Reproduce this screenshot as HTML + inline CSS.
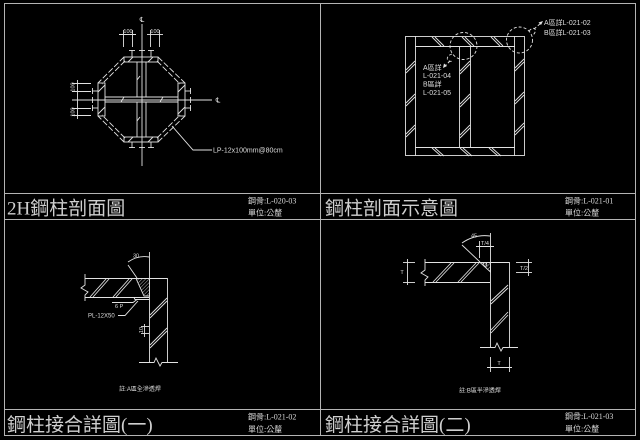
<!DOCTYPE html>
<html><head><meta charset="utf-8">
<style>
html,body{margin:0;padding:0;background:#000;width:640px;height:440px;overflow:hidden}
svg{display:block}
text{fill:#dedede;font-family:"Liberation Sans","Noto Sans CJK TC",sans-serif;}
.t{font-family:"Liberation Serif","Noto Sans CJK TC",serif;font-size:19px;fill:#cfcfcf}
.i{font-family:"Liberation Serif","Noto Sans CJK TC",serif;font-size:8px;fill:#d6d6d6}
.s{font-size:6px}
.xs{font-size:5.5px}
.m{font-size:7px}
</style></head><body>
<svg width="640" height="440" viewBox="0 0 640 440" xmlns="http://www.w3.org/2000/svg">
<rect width="640" height="440" fill="#000"/>
<defs>
<pattern id="h" width="2.5" height="2.5" patternUnits="userSpaceOnUse" patternTransform="rotate(45)">
<line x1="0" y1="0" x2="0" y2="2.5" stroke="#dddddd" stroke-width="0.8"/>
</pattern>
</defs>

<!-- frame -->
<g fill="none" stroke="#b4b4b4" stroke-width="1">
<rect x="4.5" y="3.5" width="631" height="432"/>
<line x1="320.5" y1="3" x2="320.5" y2="436"/>
<line x1="4" y1="219.5" x2="636" y2="219.5"/>
<line x1="4" y1="193.5" x2="636" y2="193.5"/>
<line x1="4" y1="409.5" x2="636" y2="409.5"/>
</g>

<!-- titles -->
<text class="t" x="7" y="214.5">2H鋼柱剖面圖</text>
<text class="t" x="325" y="214.5">鋼柱剖面示意圖</text>
<text class="t" x="7" y="431">鋼柱接合詳圖(一)</text>
<text class="t" x="325" y="431">鋼柱接合詳圖(二)</text>

<text class="i" x="248" y="203.5">鋼骨:L-020-03</text>
<text class="i" x="248" y="215.5">單位:公釐</text>
<text class="i" x="565" y="203.5">鋼骨:L-021-01</text>
<text class="i" x="565" y="215.5">單位:公釐</text>
<text class="i" x="248" y="419.5">鋼骨:L-021-02</text>
<text class="i" x="248" y="432">單位:公釐</text>
<text class="i" x="565" y="419">鋼骨:L-021-03</text>
<text class="i" x="565" y="431.5">單位:公釐</text>

<!-- ================= Panel 1 ================= -->
<g stroke="#e2e2e2" stroke-width="0.9" fill="none">
<!-- centerlines -->
<line x1="142" y1="24" x2="142" y2="166"/>
<line x1="72" y1="100" x2="212" y2="100"/>
<!-- plates -->
<rect x="124" y="57" width="34" height="5"/>
<rect x="124" y="137" width="34" height="5"/>
<rect x="98" y="83" width="7" height="33"/>
<rect x="178" y="83" width="7" height="33"/>
<!-- plate hatches -->
<line x1="128" y1="62" x2="133" y2="57"/>
<line x1="148" y1="62" x2="153" y2="57"/>
<line x1="128" y1="142" x2="133" y2="137"/>
<line x1="148" y1="142" x2="153" y2="137"/>
<line x1="98" y1="92" x2="105" y2="85"/>
<line x1="98" y1="114" x2="105" y2="107"/>
<line x1="178" y1="92" x2="185" y2="85"/>
<line x1="178" y1="114" x2="185" y2="107"/>
<!-- webs -->
<line x1="137" y1="62" x2="137" y2="97"/>
<line x1="146" y1="62" x2="146" y2="97"/>
<line x1="137" y1="102" x2="137" y2="137"/>
<line x1="146" y1="102" x2="146" y2="137"/>
<line x1="105" y1="97" x2="178" y2="97"/>
<line x1="105" y1="102" x2="178" y2="102"/>
<!-- weld ticks -->
<line x1="121" y1="102" x2="124" y2="97"/>
<line x1="160" y1="102" x2="163" y2="97"/>
<line x1="137" y1="80" x2="140" y2="76"/>
<line x1="137" y1="121" x2="140" y2="117"/>
<!-- lacing diagonals (dashed) -->
<g stroke-dasharray="6 2">
<line x1="124" y1="57" x2="98" y2="83"/>
<line x1="125" y1="61" x2="102" y2="84"/>
<line x1="158" y1="57" x2="185" y2="83"/>
<line x1="157" y1="61" x2="180" y2="84"/>
<line x1="124" y1="142" x2="98" y2="116"/>
<line x1="125" y1="138" x2="102" y2="115"/>
<line x1="158" y1="142" x2="185" y2="116"/>
<line x1="157" y1="138" x2="180" y2="115"/>
</g>
<!-- top dimension -->
<line x1="123.5" y1="30" x2="123.5" y2="47"/>
<line x1="132.5" y1="30" x2="132.5" y2="47"/>
<line x1="150.5" y1="30" x2="150.5" y2="47"/>
<line x1="159.5" y1="30" x2="159.5" y2="47"/>
<line x1="119" y1="34.5" x2="136" y2="34.5"/>
<line x1="147" y1="34.5" x2="163" y2="34.5"/>
<!-- top T markers -->
<line x1="129" y1="50.5" x2="135" y2="50.5"/><line x1="132" y1="50" x2="132" y2="57"/>
<line x1="139" y1="50.5" x2="145" y2="50.5"/><line x1="142" y1="50" x2="142" y2="57"/>
<line x1="148" y1="50.5" x2="154" y2="50.5"/><line x1="151" y1="50" x2="151" y2="57"/>
<!-- bottom T markers -->
<line x1="129" y1="147.5" x2="135" y2="147.5"/><line x1="132" y1="142" x2="132" y2="148"/>
<line x1="139" y1="147.5" x2="145" y2="147.5"/>
<line x1="148" y1="147.5" x2="154" y2="147.5"/><line x1="151" y1="142" x2="151" y2="148"/>
<!-- left dimension -->
<line x1="72" y1="83.5" x2="91" y2="83.5"/>
<line x1="72" y1="91.5" x2="91" y2="91.5"/>
<line x1="72" y1="108.5" x2="91" y2="108.5"/>
<line x1="72" y1="115.5" x2="91" y2="115.5"/>
<line x1="77.5" y1="80" x2="77.5" y2="119"/>
<!-- left T markers -->
<line x1="92.5" y1="88" x2="92.5" y2="94"/><line x1="92" y1="91" x2="98" y2="91"/>
<line x1="92.5" y1="97" x2="92.5" y2="103"/>
<line x1="92.5" y1="105" x2="92.5" y2="111"/><line x1="92" y1="108" x2="98" y2="108"/>
<!-- right T markers -->
<line x1="190.5" y1="88" x2="190.5" y2="94"/><line x1="185" y1="91" x2="191" y2="91"/>
<line x1="190.5" y1="97" x2="190.5" y2="103"/>
<line x1="190.5" y1="105" x2="190.5" y2="111"/><line x1="185" y1="108" x2="191" y2="108"/>
<!-- leader -->
<polyline points="172,126 193,150 212,150"/>
</g>
<text class="xs" x="128" y="33" text-anchor="middle">100</text>
<text class="xs" x="155" y="33" text-anchor="middle">100</text>
<text class="xs" transform="translate(74.5,87) rotate(-90)" text-anchor="middle">100</text>
<text class="xs" transform="translate(74.5,112) rotate(-90)" text-anchor="middle">100</text>
<text x="142" y="22" font-size="7" text-anchor="middle" style="font-family:'DejaVu Sans',sans-serif">℄</text>
<text x="218" y="102.5" font-size="7" text-anchor="middle" style="font-family:'DejaVu Sans',sans-serif">℄</text>
<text class="m" x="213" y="152.5">LP-12x100mm@80cm</text>

<!-- ================= Panel 2 ================= -->
<g stroke="#e2e2e2" stroke-width="0.9" fill="none">
<rect x="405.5" y="36.5" width="119" height="119"/>
<line x1="415.5" y1="36" x2="415.5" y2="156"/>
<line x1="514.5" y1="36" x2="514.5" y2="156"/>
<line x1="415" y1="46.5" x2="515" y2="46.5"/>
<line x1="415" y1="147.5" x2="515" y2="147.5"/>
<line x1="459.5" y1="46" x2="459.5" y2="148"/>
<line x1="470.5" y1="46" x2="470.5" y2="148"/>
<!-- top hatches -->
<line x1="432" y1="37" x2="441" y2="46"/><line x1="435" y1="37" x2="444" y2="46"/>
<line x1="462" y1="37" x2="471" y2="46"/><line x1="465" y1="37" x2="474" y2="46"/>
<line x1="491" y1="37" x2="500" y2="46"/><line x1="494" y1="37" x2="503" y2="46"/>
<!-- bottom hatches -->
<line x1="432" y1="148" x2="441" y2="156"/><line x1="435" y1="148" x2="444" y2="156"/>
<line x1="460" y1="148" x2="469" y2="156"/><line x1="463" y1="148" x2="472" y2="156"/>
<line x1="489" y1="148" x2="498" y2="156"/><line x1="492" y1="148" x2="501" y2="156"/>
<!-- left band hatches -->
<line x1="406" y1="70" x2="415" y2="61"/><line x1="406" y1="73" x2="415" y2="64"/>
<line x1="406" y1="103" x2="415" y2="94"/><line x1="406" y1="106" x2="415" y2="97"/>
<line x1="406" y1="134" x2="415" y2="125"/><line x1="406" y1="137" x2="415" y2="128"/>
<!-- middle column hatches -->
<line x1="460" y1="71" x2="470" y2="61"/><line x1="460" y1="74" x2="470" y2="64"/>
<line x1="460" y1="104" x2="470" y2="94"/><line x1="460" y1="107" x2="470" y2="97"/>
<line x1="460" y1="135" x2="470" y2="125"/><line x1="460" y1="138" x2="470" y2="128"/>
<!-- right band hatches -->
<line x1="515" y1="68" x2="524" y2="59"/><line x1="515" y1="71" x2="524" y2="62"/>
<line x1="515" y1="101" x2="524" y2="92"/><line x1="515" y1="104" x2="524" y2="95"/>
<line x1="515" y1="132" x2="524" y2="123"/><line x1="515" y1="135" x2="524" y2="126"/>
<!-- dashed callouts -->
<g stroke-dasharray="3 2">
<circle cx="463.5" cy="46" r="13.5"/>
<path d="M452,54 C445,56 446,63 453,61"/>
<line x1="450" y1="61" x2="445" y2="66"/>
<circle cx="519.5" cy="40" r="13"/>
<path d="M529,31 C534,25 539,30 532,36"/>
<line x1="534" y1="29" x2="541" y2="23"/>
</g>
</g>
<polygon points="443,68 444,63.5 447,66" fill="#e2e2e2"/>
<polygon points="543,21 538.5,22.5 541,25" fill="#e2e2e2"/>
<text class="m" x="423" y="70">A區詳</text>
<text class="m" x="423" y="78">L-021-04</text>
<text class="m" x="423" y="86.5">B區詳</text>
<text class="m" x="423" y="95">L-021-05</text>
<text class="m" x="544" y="25">A區詳L-021-02</text>
<text class="m" x="544" y="35">B區詳L-021-03</text>

<!-- ================= Panel 3 ================= -->
<g stroke="#e2e2e2" stroke-width="0.9" fill="none">
<line x1="85" y1="278.5" x2="167" y2="278.5"/>
<line x1="85" y1="297.5" x2="149" y2="297.5"/>
<polyline points="85,274 85,285 81,288 88,292 85,295 85,301"/>
<line x1="149.5" y1="252" x2="149.5" y2="363"/>
<line x1="167.5" y1="278" x2="167.5" y2="363"/>
<polyline points="139,362.5 154,362.5 156,358 160,366 162,362.5 178,362.5"/>
<polygon points="136,278.5 149.5,278.5 149.5,296 144,296" fill="url(#h)"/>
<line x1="128" y1="265" x2="137" y2="278"/>
<path d="M128,262 Q138,255 149,257"/>
<polyline points="134,297.5 135,299.5 149.5,299.5"/>
<polyline points="112,302.5 133,302.5 137,299.5"/>
<polyline points="118,315.5 125,315.5 138,301"/>
<!-- beam hatches -->
<line x1="90" y1="297" x2="106" y2="279"/><line x1="93" y1="297" x2="109" y2="279"/>
<line x1="113" y1="297" x2="129" y2="279"/><line x1="116" y1="297" x2="132" y2="279"/>
<!-- column hatches -->
<line x1="150" y1="315" x2="167" y2="298"/><line x1="150" y1="318" x2="167" y2="301"/>
<line x1="150" y1="345" x2="167" y2="328"/><line x1="150" y1="348" x2="167" y2="331"/>
<!-- 10 dim -->
<line x1="144.5" y1="324" x2="144.5" y2="337"/>
<line x1="141" y1="326.5" x2="149" y2="326.5"/>
<line x1="141" y1="333.5" x2="149" y2="333.5"/>
</g>
<text class="xs" x="136" y="257.5" text-anchor="middle">30</text>
<text class="xs" x="115" y="308">6 P</text>
<text class="s" x="88" y="317.5">PL-12X50</text>
<text class="xs" transform="translate(143,330) rotate(-90)" text-anchor="middle">10</text>
<text class="s" x="140" y="391" text-anchor="middle">註:A區全滲透焊</text>

<!-- ================= Panel 4 ================= -->
<g stroke="#e2e2e2" stroke-width="0.9" fill="none">
<line x1="425" y1="262.5" x2="509" y2="262.5"/>
<line x1="425" y1="282.5" x2="490" y2="282.5"/>
<polyline points="425,259 425,270 421,273 428,277 425,280 425,286"/>
<line x1="490.5" y1="233" x2="490.5" y2="348"/>
<line x1="509.5" y1="262" x2="509.5" y2="348"/>
<polyline points="480,347.5 495,347.5 497,343 501,351 503,347.5 518,347.5"/>
<polygon points="480,262.5 490.5,262.5 490.5,272" fill="url(#h)"/>
<circle cx="485" cy="264.5" r="1.8"/>
<line x1="462" y1="245" x2="480" y2="262"/>
<path d="M462,243 Q475,234 490,236"/>
<!-- T/4 dim -->
<line x1="479.5" y1="241" x2="479.5" y2="258"/>
<line x1="476" y1="246.5" x2="494" y2="246.5"/>
<!-- left T dim -->
<line x1="407.5" y1="259" x2="407.5" y2="285"/>
<line x1="403" y1="262.5" x2="415" y2="262.5"/>
<line x1="403" y1="282.5" x2="415" y2="282.5"/>
<!-- right T/2 dim -->
<line x1="528.5" y1="259" x2="528.5" y2="276"/>
<line x1="516" y1="262.5" x2="532" y2="262.5"/>
<line x1="516" y1="272.5" x2="532" y2="272.5"/>
<!-- bottom T dim -->
<line x1="490.5" y1="357" x2="490.5" y2="372"/>
<line x1="509.5" y1="357" x2="509.5" y2="372"/>
<line x1="487" y1="367.5" x2="512" y2="367.5"/>
<!-- beam hatches -->
<line x1="433" y1="282" x2="451" y2="263"/><line x1="436" y1="282" x2="454" y2="263"/>
<line x1="458" y1="282" x2="476" y2="263"/><line x1="461" y1="282" x2="479" y2="263"/>
<!-- column hatches -->
<line x1="491" y1="301" x2="508" y2="285"/><line x1="491" y1="304" x2="508" y2="288"/>
<line x1="491" y1="330" x2="508" y2="312"/><line x1="491" y1="333" x2="508" y2="315"/>
</g>
<text class="xs" x="474" y="237.5" text-anchor="middle">45</text>
<text class="xs" x="485" y="245" text-anchor="middle">T/4</text>
<text class="xs" x="402" y="274" text-anchor="middle">T</text>
<text class="xs" x="524" y="270" text-anchor="middle">T/2</text>
<text class="xs" x="499" y="365" text-anchor="middle">T</text>
<text class="s" x="480" y="392.5" text-anchor="middle">註:B區半滲透焊</text>
</svg>
</body></html>
